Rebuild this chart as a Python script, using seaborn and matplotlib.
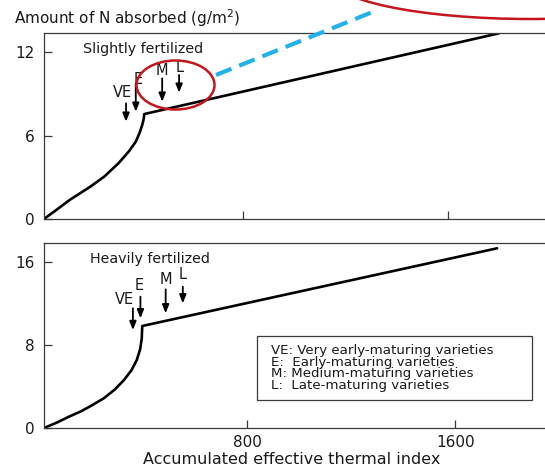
import numpy as np
import pandas as pd
import matplotlib
matplotlib.use("Agg")
import matplotlib.pyplot as plt
from matplotlib.patches import Ellipse, Rectangle
from matplotlib.lines import Line2D
import seaborn as sns

sns.set_style("white")
plt.rcParams['font.family'] = ['DejaVu Sans']

# ---------------- data ----------------
# Slightly fertilized curve (x: accumulated effective thermal index, y: N absorbed g/m2)
slight_x = [22, 70, 122, 165, 203, 257, 312, 352, 380, 395, 405, 411, 413, 1797]
slight_y = [0.0, 0.65, 1.37, 1.88, 2.33, 3.05, 4.00, 4.84, 5.56, 6.20, 6.75, 7.20, 7.55, 13.36]

# Heavily fertilized curve
heavy_x = [18, 70, 114, 160, 200, 248, 290, 325, 355, 375, 388, 394, 396, 1761]
heavy_y = [0.0, 0.55, 1.09, 1.60, 2.15, 2.86, 3.70, 4.60, 5.58, 6.55, 7.60, 8.60, 9.82, 17.30]

# maturity-class arrows
arrow_labels = ["VE", "E", "M", "L"]
slight_arrow_x = [342, 380, 483, 549]
slight_arrow_top = [8.32, 9.76, 10.12, 10.36]
slight_arrow_tip = [7.00, 7.72, 8.44, 9.09]
slight_label_x = [327, 389, 481, 553]
slight_label_y = [9.11, 10.01, 10.65, 10.90]

heavy_arrow_x = [360, 389, 486, 552]
heavy_arrow_top = [11.52, 12.64, 13.35, 13.60]
heavy_arrow_tip = [9.43, 10.56, 11.04, 12.00]
heavy_label_x = [328, 386, 486, 552]
heavy_label_y = [12.39, 13.67, 14.31, 14.73]

slight_yticks = [0, 6, 12]
heavy_yticks = [0, 8, 16]
xticks = [800, 1600]

panel_titles = ["Slightly fertilized", "Heavily fertilized"]
legend_lines = ["VE: Very early-maturing varieties",
                "E:  Early-maturing varieties",
                "M: Medium-maturing varieties",
                "L:  Late-maturing varieties"]
ylabel_text = "Amount of N absorbed (g/m$^2$)"
xlabel_text = "Accumulated effective thermal index"

# ---------------- figure ----------------
W, H = 545, 467
fig = plt.figure(figsize=(W / 100, H / 100), dpi=100)
fig.patch.set_facecolor("white")

def fx(px):
    return px / W

def fy(py):
    return 1 - py / H

ax1 = fig.add_axes([fx(44), fy(219), (560 - 44) / W, (219 - 33.3) / H])
ax2 = fig.add_axes([fx(44), fy(428), (560 - 44) / W, (428 - 243.3) / H])

ink = "#1a1a1a"
spine_c = "#3a3a3a"

df1 = pd.DataFrame({"x": slight_x, "y": slight_y})
df2 = pd.DataFrame({"x": heavy_x, "y": heavy_y})
sns.lineplot(data=df1, x="x", y="y", ax=ax1, color="black", lw=1.9,
             sort=False, estimator=None)
sns.lineplot(data=df2, x="x", y="y", ax=ax2, color="black", lw=1.9,
             sort=False, estimator=None)

ax1.set_xlim(22, 2035)
ax1.set_ylim(0, 13.36)
ax2.set_xlim(18, 2003)
ax2.set_ylim(0, 17.78)

for ax, yt in [(ax1, slight_yticks), (ax2, heavy_yticks)]:
    ax.set_xlabel("")
    ax.set_ylabel("")
    ax.set_yticks(yt)
    ax.set_yticklabels([str(v) for v in yt])
    ax.set_xticks(xticks)
    for s in ["left", "bottom", "top", "right"]:
        ax.spines[s].set_color(spine_c)
        ax.spines[s].set_linewidth(0.9)
    ax.tick_params(axis="both", direction="in", length=6, width=0.9,
                   color=spine_c, labelcolor=ink, labelsize=11,
                   left=True, bottom=True)
    ax.tick_params(axis="y", pad=7)
    ax.tick_params(axis="x", pad=5)
    ax.grid(False)
    ax.set_facecolor("white")

ax1.set_xticklabels(["", ""])
ax2.set_xticklabels([str(v) for v in xticks])

# panel titles
ax1.text(176, 12.2, panel_titles[0], fontsize=10.3, color=ink, ha="left", va="center")
ax2.text(194, 16.24, panel_titles[1], fontsize=10.3, color=ink, ha="left", va="center")

# arrows
def draw_arrows(ax, xs, tops, tips, lx, ly):
    for lab, x, t, b, tx, ty in zip(arrow_labels, xs, tops, tips, lx, ly):
        ax.annotate("", xy=(x, b), xytext=(x, t),
                    arrowprops=dict(arrowstyle="-|>,head_length=0.5,head_width=0.2",
                                    lw=1.3, color="black", shrinkA=0, shrinkB=0))
        ax.text(tx, ty, lab, fontsize=10.5, color=ink, ha="center", va="center")

draw_arrows(ax1, slight_arrow_x, slight_arrow_top, slight_arrow_tip,
            slight_label_x, slight_label_y)
draw_arrows(ax2, heavy_arrow_x, heavy_arrow_top, heavy_arrow_tip,
            heavy_label_x, heavy_label_y)

# legend box
fig.add_artist(Rectangle((fx(256.5), fy(400)), (531.5 - 256.5) / W, (400 - 335.5) / H,
                         transform=fig.transFigure, fill=False, ec=spine_c, lw=0.9))
fig.text(fx(271), fy(368.0), "\n".join(legend_lines), fontsize=9.6, color=ink,
         ha="left", va="center", linespacing=0.86)

# axis labels
fig.text(fx(13.9), fy(18.3), ylabel_text, fontsize=11, color=ink, ha="left", va="center")
fig.text(fx(292), fy(459), xlabel_text, fontsize=11.5, color=ink, ha="center", va="center")

# highlight overlays
red = "#C4161C"
fig.add_artist(Ellipse((fx(175.5), fy(85)), 78 / W, 49 / H, transform=fig.transFigure,
                       fill=False, ec=red, lw=1.8))
fig.add_artist(Ellipse((fx(530), fy(-23)), 400 / W, 84 / H, transform=fig.transFigure,
                       fill=False, ec=red, lw=1.8, clip_on=False))
fig.add_artist(Line2D([fx(216), fx(375)], [fy(75), fy(11)], transform=fig.transFigure,
                      color="#22B1EC", lw=3, dashes=(4, 2)))

fig.savefig("out.png", dpi=100)
